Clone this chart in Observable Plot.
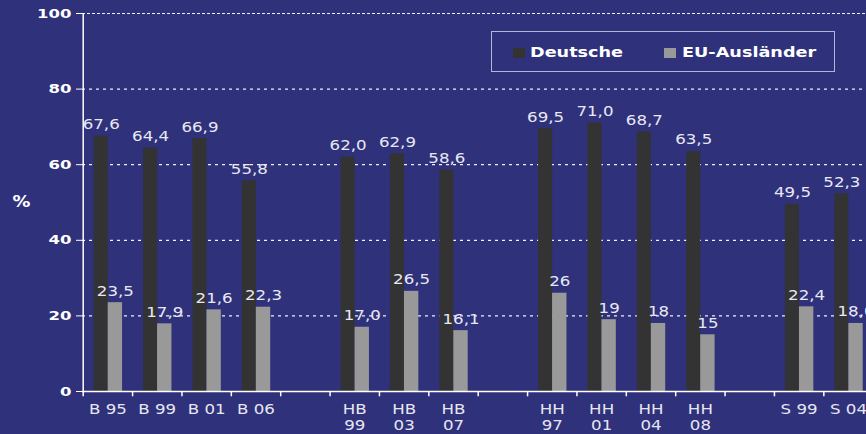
<!DOCTYPE html>
<html>
<head>
<meta charset="utf-8">
<script src="https://cdn.jsdelivr.net/npm/d3@7"></script>
<script src="https://cdn.jsdelivr.net/npm/@observablehq/plot@0.6"></script>
<style>
  html, body { margin: 0; padding: 0; overflow: hidden; background: #2f317a; }
  #wrap { position: relative; width: 866px; height: 434px; overflow: hidden; background: #2f317a; font-family: "DejaVu Sans", sans-serif; }
  .legend { position: absolute; left: 491px; top: 31px; width: 344px; height: 41px; border: 1.5px solid #b4b4d8; box-sizing: border-box; }
  .legend .sw { position: absolute; width: 12px; height: 10px; top: 16px; }
  .legend .lb { position: absolute; top: 10px; color: white; font-weight: bold; font-size: 14px; line-height: 20px; white-space: nowrap; transform: scaleX(1.26); transform-origin: left center; }
</style>
</head>
<body>
<div id="wrap"></div>
<script>
const categories = ["B 95","B 99","B 01","B 06","gap1","HB 99","HB 03","HB 07","gap2","HH 97","HH 01","HH 04","HH 08","gap3","S 99","S 04"];
const tickLabels = ["B 95","B 99","B 01","B 06","","HB\n99","HB\n03","HB\n07","","HH\n97","HH\n01","HH\n04","HH\n08","","S 99","S 04"];
const barCategories = ["B 95","B 99","B 01","B 06","HB 99","HB 03","HB 07","HH 97","HH 01","HH 04","HH 08","S 99","S 04"];
const seriesNames = ["Deutsche", "EU-Ausländer"];
const seriesColors = ["#333333", "#999999"];
const deutsche = [67.6, 64.4, 66.9, 55.8, 62.0, 62.9, 58.6, 69.5, 71.0, 68.7, 63.5, 49.5, 52.3];
const euAuslaender = [23.5, 17.9, 21.6, 22.3, 17.0, 26.5, 16.1, 26, 19, 18, 15, 22.4, 18.0];
const deutscheLabels = ["67,6","64,4","66,9","55,8","62,0","62,9","58,6","69,5","71,0","68,7","63,5","49,5","52,3"];
const euLabels = ["23,5","17,9","21,6","22,3","17,0","26,5","16,1","26","19","18","15","22,4","18,0"];
const yTicks = [0, 20, 40, 60, 80, 100];

const dRows = barCategories.map((c, i) => ({cat: c, value: deutsche[i], label: deutscheLabels[i]}));
const eRows = barCategories.map((c, i) => ({cat: c, value: euAuslaender[i], label: euLabels[i]}));

const x0 = 82.7, x1 = 872.7;
const bw = (x1 - x0) / categories.length;

const chart = Plot.plot({
  width: 866,
  height: 434,
  marginLeft: 82,
  marginTop: 13,
  marginBottom: 43,
  marginRight: 0,
  style: {background: "transparent", fontFamily: "DejaVu Sans", color: "white", overflow: "hidden"},
  x: {type: "band", domain: categories, range: [x0, x1], padding: 0, round: false},
  y: {domain: [0, 100]},
  marks: [
    Plot.gridY(yTicks.filter(t => t > 0 && t < 100), {stroke: "#f0f0f8", strokeOpacity: 1, strokeWidth: 1.2, strokeDasharray: "3,4"}),
    Plot.gridY([100], {stroke: "#f0f0f8", strokeOpacity: 1, strokeWidth: 1.2, strokeDasharray: "3,2"}),
    Plot.barY(dRows, {x: "cat", y: "value", fill: seriesColors[0], insetLeft: 11, insetRight: bw - 25}),
    Plot.barY(eRows, {x: "cat", y: "value", fill: seriesColors[1], insetLeft: 25, insetRight: 10}),
    Plot.text(dRows, {x: "cat", y: "value", text: "label", dx: -6.7, dy: -7, lineAnchor: "bottom", fill: "#e8e8f4", fontSize: 14}),
    Plot.text(eRows, {x: "cat", y: "value", text: "label", dx: 7.5, dy: -7, lineAnchor: "bottom", fill: "#e8e8f4", fontSize: 14}),
    Plot.ruleY([0], {stroke: "white", strokeWidth: 1.5}),
    Plot.ruleX([categories[0]], {dx: -bw / 2, stroke: "white", strokeWidth: 1.5}),
    Plot.ruleX(categories, {x: d => d, y1: 0, y2: -1.4, dx: -bw / 2, stroke: "white", strokeWidth: 1.5}),
    Plot.axisY({ticks: yTicks, tickSize: 6, tickPadding: 5, fontSize: 13, fontWeight: "bold", color: "white", label: null}),
    Plot.axisX({tickSize: 0, tickPadding: 11, tickFormat: d => tickLabels[categories.indexOf(d)], fontSize: 14, fill: "#e6e6f2", lineHeight: 1.15, label: null}),
    Plot.text([{v: 50}], {y: "v", text: () => "%", frameAnchor: "left", dx: -61, textAnchor: "middle", fill: "white", fontWeight: "bold", fontSize: 15})
  ]
});

function stretch(selection, s) {
  selection.each(function () {
    const el = d3.select(this);
    const t = el.attr("transform") || "";
    el.attr("transform", (t + ` scale(${s},1)`).trim());
  });
}
stretch(d3.select(chart).selectAll('g[aria-label="y-axis tick label"] text'), 1.27);
stretch(d3.select(chart).selectAll('g[aria-label="x-axis tick label"] text'), 1.19);
stretch(d3.select(chart).selectAll('g[aria-label="text"] text'), 1.19);

const wrap = document.getElementById("wrap");
wrap.appendChild(chart);

const legend = document.createElement("div");
legend.className = "legend";
const legendPos = [{sw: 21, lb: 38}, {sw: 172, lb: 190}];
seriesNames.forEach((name, i) => {
  const sw = document.createElement("div");
  sw.className = "sw";
  sw.style.left = legendPos[i].sw + "px";
  sw.style.background = seriesColors[i];
  const lb = document.createElement("div");
  lb.className = "lb";
  lb.style.left = legendPos[i].lb + "px";
  lb.textContent = name;
  legend.appendChild(sw);
  legend.appendChild(lb);
});
wrap.appendChild(legend);
</script>
</body>
</html>
